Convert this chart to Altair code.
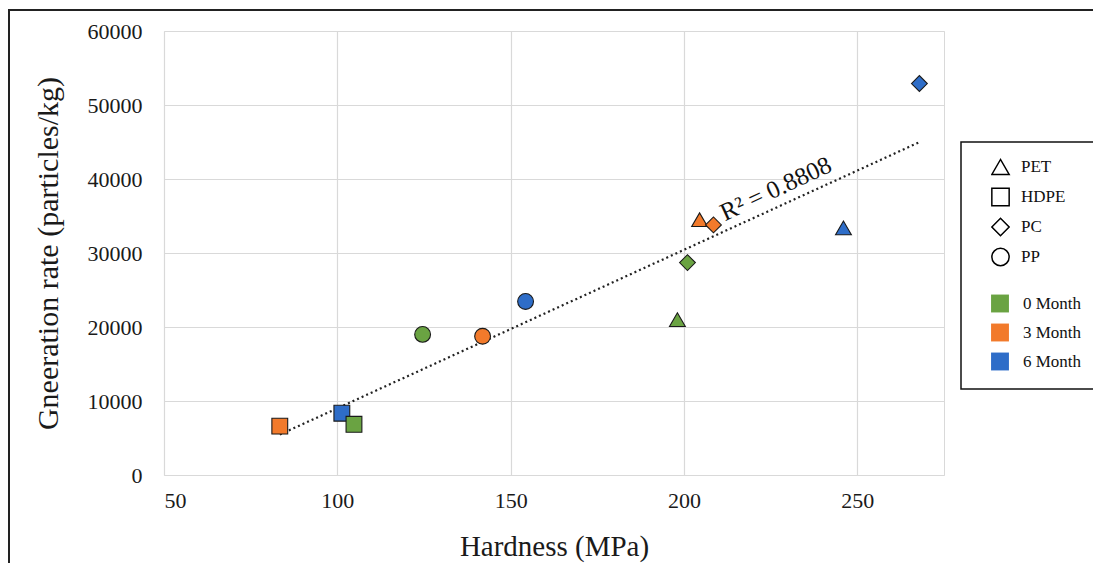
import altair as alt
import pandas as pd

# ---- data ----
hardness = [83.4, 101.3, 104.8, 124.6, 141.9, 154.3, 198.1, 201.0, 204.5, 208.5, 246.0, 267.9]
rate = [6600, 8350, 6850, 19000, 18750, 23450, 21000, 28700, 34500, 33800, 33400, 52900]
polymer = ["HDPE", "HDPE", "HDPE", "PP", "PP", "PP", "PET", "PC", "PET", "PC", "PET", "PC"]
month = ["3 Month", "6 Month", "0 Month", "0 Month", "3 Month", "6 Month",
         "0 Month", "0 Month", "3 Month", "3 Month", "6 Month", "6 Month"]

polymer_order = ["PET", "HDPE", "PC", "PP"]
polymer_shapes = ["triangle-up", "square", "diamond", "circle"]
month_order = ["0 Month", "3 Month", "6 Month"]
month_colors = ["#6AA342", "#F27A2B", "#2E6DC8"]

x_ticks = [50, 100, 150, 200, 250]
y_ticks = [0, 10000, 20000, 30000, 40000, 50000, 60000]
x_domain = [50, 275]
y_domain = [0, 60000]

r2_label = ["R² = 0.8808"]
r2_pos_x = [226.5]
r2_pos_y = [38700]

df = pd.DataFrame({"hardness": hardness, "rate": rate, "polymer": polymer, "month": month})
lab_df = pd.DataFrame({"hardness": r2_pos_x, "rate": r2_pos_y, "label": r2_label})

FONT = "Liberation Serif"
W, H = 780, 444

xs = alt.Scale(domain=x_domain, nice=False, zero=False)
ys = alt.Scale(domain=y_domain, nice=False)

x_enc = alt.X("hardness:Q", scale=xs, title="Hardness (MPa)",
              axis=alt.Axis(values=x_ticks, format="d", grid=True, ticks=False, domain=False,
                            labelPadding=15, titlePadding=21, titleFontSize=29))
y_enc = alt.Y("rate:Q", scale=ys, title="Gneeration rate (particles/kg)",
              axis=alt.Axis(values=y_ticks, format="d", grid=True, ticks=False, domain=False,
                            labelPadding=22, titlePadding=24, titleFontSize=30))

base = alt.Chart(df)

trend = base.transform_regression("hardness", "rate").mark_line(
    color="#222222", strokeWidth=2.2, strokeDash=[2, 3]
).encode(x=x_enc, y=y_enc)

points = base.mark_point(filled=True, opacity=1, stroke="#1a1a1a", strokeWidth=1.1, size=250).encode(
    x=x_enc,
    y=y_enc,
    shape=alt.Shape("polymer:N", scale=alt.Scale(domain=polymer_order, range=polymer_shapes),
                    legend=alt.Legend(orient="none", legendX=827, legendY=121, title=None,
                                      symbolFillColor="white", symbolStrokeColor="black",
                                      symbolStrokeWidth=1.5, symbolSize=300, rowPadding=0,
                                      clipHeight=30, labelFont=FONT, labelFontSize=17,
                                      labelColor="#111111", labelOffset=11, padding=0)),
    color=alt.Color("month:N", scale=alt.Scale(domain=month_order, range=month_colors),
                    legend=alt.Legend(orient="none", legendX=827, legendY=258, title=None,
                                      symbolType="square", symbolSize=320, symbolStrokeWidth=0,
                                      rowPadding=0, clipHeight=29, labelFont=FONT, labelFontSize=17,
                                      labelColor="#111111", labelOffset=14, padding=0)),
)

r2 = alt.Chart(lab_df).mark_text(
    font=FONT, fontSize=25, angle=335, color="#111111", align="center", baseline="middle"
).encode(x=alt.X("hardness:Q", scale=xs), y=alt.Y("rate:Q", scale=ys), text="label:N")

one = alt.Data(values=[{"a": 1}])
legend_box = alt.Chart(one).mark_rect(fill="white", stroke="#111111", strokeWidth=1.5, clip=False).encode(
    x=alt.value(797), x2=alt.value(960), y=alt.value(111), y2=alt.value(358)
)
frame = alt.Chart(one).mark_rect(fill=None, stroke="#222222", strokeWidth=2, clip=False).encode(
    x=alt.value(-155), x2=alt.value(945), y=alt.value(-21), y2=alt.value(545)
)

chart = alt.layer(frame, legend_box, trend, points, r2).properties(
    width=W, height=H,
    autosize=alt.AutoSizeParams(type="none"),
    padding={"left": 156, "top": 23, "right": 149, "bottom": 88},
    background="white",
).configure_view(stroke="#d9d9d9", strokeWidth=1).configure_axis(
    gridColor="#d9d9d9", gridWidth=1.2,
    labelFont=FONT, labelFontSize=22, labelColor="#1a1a1a",
    titleFont=FONT, titleColor="#1a1a1a", titleFontWeight="normal",
)

chart.save("out.html", embed_options={"renderer": "svg", "actions": False})
